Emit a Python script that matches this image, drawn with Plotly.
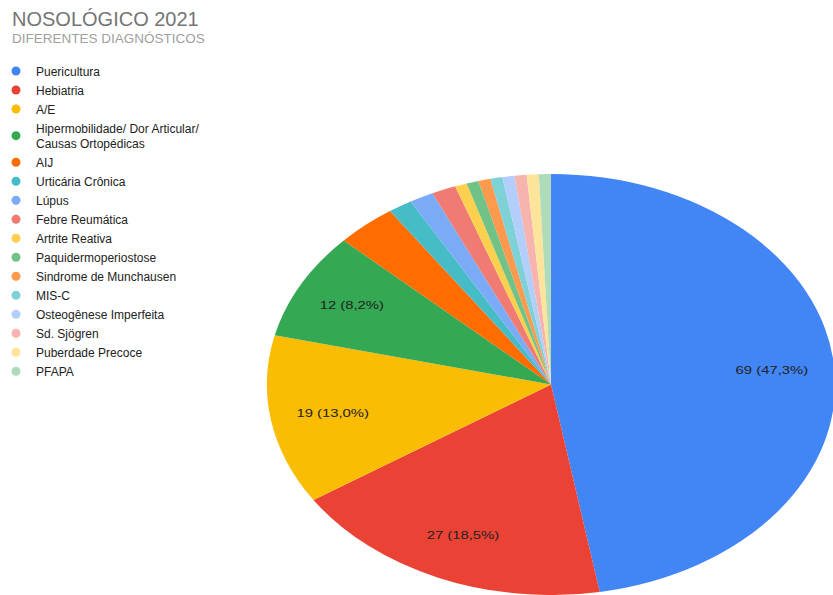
import plotly.graph_objects as go

categories = [
    "Puericultura", "Hebiatria", "A/E",
    "Hipermobilidade/ Dor Articular/<br>Causas Ortopédicas",
    "AIJ", "Urticária Crônica", "Lúpus", "Febre Reumática", "Artrite Reativa",
    "Paquidermoperiostose", "Sindrome de Munchausen", "MIS-C",
    "Osteogênese Imperfeita", "Sd. Sjögren", "Puberdade Precoce", "PFAPA",
]
values = [69, 27, 19, 12, 5, 2, 2, 2, 1, 1, 1, 1, 1, 1, 1, 1]
colors = [
    "#4285F4", "#EA4335", "#FBBC04", "#34A853", "#FF6D01", "#46BDC6",
    "#7BAAF7", "#F07B72", "#FCD04F", "#71C287", "#FF994D", "#7ED1D7",
    "#B3CEFB", "#F7B4AE", "#FDE49B", "#AEDCBA",
]
title_text = "NOSOLÓGICO 2021"
subtitle_text = "DIFERENTES DIAGNÓSTICOS"

FONT = "Arial, Liberation Sans, sans-serif"
PIE_DOMAIN = dict(x=[0.4082, 0.9148], y=[0.0, 0.7076])

templates = ["%{value} (%{percent:.1%})" if v >= 10 else "" for v in values]

fig = go.Figure()
# filled slices
fig.add_trace(go.Pie(
    labels=categories, values=values, sort=False,
    direction="clockwise", rotation=0,
    marker=dict(colors=colors, line=dict(width=0)),
    textinfo="none", showlegend=False, domain=PIE_DOMAIN,
    hoverinfo="label+value+percent",
))
# transparent ring carrying the slice labels (places them at ~0.78 radius)
fig.add_trace(go.Pie(
    labels=categories, values=values, sort=False,
    direction="clockwise", rotation=0, hole=0.56,
    marker=dict(colors=["rgba(0,0,0,0)"] * len(values), line=dict(width=0)),
    texttemplate=templates, textposition="inside",
    insidetextorientation="horizontal",
    insidetextfont=dict(family=FONT, size=11, color="#222222"),
    showlegend=False, domain=PIE_DOMAIN, hoverinfo="skip",
))

for name, col in zip(categories, colors):
    fig.add_trace(go.Scatter(
        x=[None], y=[None], mode="markers", name=name,
        marker=dict(color=col, size=9, symbol="circle"),
        hoverinfo="skip",
    ))

fig.update_layout(
    width=833, height=595,
    margin=dict(l=0, r=0, t=0, b=0),
    paper_bgcolor="white", plot_bgcolor="white",
    separators=",.",
    xaxis=dict(visible=False, domain=[0, 0.01]),
    yaxis=dict(visible=False, domain=[0, 0.01]),
    legend=dict(
        x=0.0, y=0.905, xanchor="left", yanchor="top",
        font=dict(family=FONT, size=12, color="#222222"),
        bgcolor="rgba(0,0,0,0)", traceorder="normal",
        itemwidth=30, indentation=-4,
    ),
)
fig.add_annotation(text=title_text, x=10 / 833, y=1 - 19 / 595, xref="paper", yref="paper",
                   xanchor="left", yanchor="middle", showarrow=False,
                   font=dict(family=FONT, size=20, color="#757575"))
fig.add_annotation(text=subtitle_text, x=10 / 833, y=1 - 38 / 595, xref="paper", yref="paper",
                   xanchor="left", yanchor="middle", showarrow=False,
                   font=dict(family=FONT, size=13.5, color="#A0A0A0"))

# page without default body margin; the reference pie is horizontally stretched
post = """
document.body.style.margin = '0';
document.body.style.overflow = 'hidden';
var gd = document.getElementById('{plot_id}');
var layer = gd.querySelector('.pielayer');
if (layer) {
  var bb = layer.getBBox();
  var cx = bb.x + bb.width / 2;
  layer.setAttribute('transform',
    'translate(' + cx + ',0) scale(1.35,1) translate(' + (-cx) + ',0)');
}
"""
fig.write_html("out.html", post_script=post, config={"displayModeBar": False})
